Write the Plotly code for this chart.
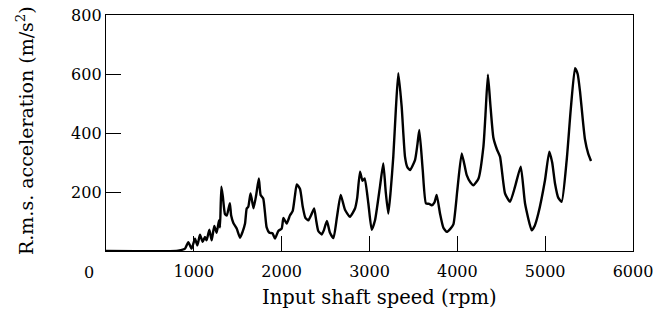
import plotly.graph_objects as go

rpm = [0, 800, 850, 900, 937, 975, 1013, 1040, 1070, 1100, 1127, 1145, 1177, 1203, 1233, 1260,
       1287, 1298, 1313, 1330, 1355, 1375, 1410, 1425, 1450, 1488, 1526, 1555, 1583, 1602, 1620,
       1645, 1660, 1680, 1710, 1740, 1760, 1790, 1810, 1829, 1860, 1895, 1924, 1962, 2000, 2020,
       2057, 2095, 2125, 2150, 2172, 2209, 2240, 2270, 2304, 2340, 2370, 2395, 2417, 2456, 2480,
       2515, 2550, 2590, 2630, 2672, 2721, 2778, 2835, 2860, 2892, 2920, 2945, 2987, 3025, 3063,
       3120, 3157, 3185, 3214, 3240, 3271, 3300, 3328, 3366, 3404, 3430, 3461, 3518, 3545, 3567,
       3606, 3643, 3680, 3708, 3740, 3765, 3803, 3840, 3879, 3920, 3955, 4000, 4050, 4107, 4150,
       4183, 4240, 4297, 4320, 4348, 4375, 4410, 4450, 4486, 4543, 4600, 4657, 4722, 4771, 4847,
       4880, 4922, 4998, 5047, 5080, 5112, 5150, 5188, 5245, 5291, 5340, 5370, 5397, 5430, 5454,
       5490, 5522]
accel = [0, 0, 3, 8, 30, 8, 42, 19, 55, 31, 48, 36, 72, 36, 85, 62,
         104, 80, 218, 185, 125, 120, 162, 120, 95, 76, 45, 65, 93, 144, 150,
         195, 175, 145, 190, 246, 190, 178, 130, 80, 62, 60, 42, 68, 76, 112,
         93, 121, 135, 185, 226, 210, 150, 112, 104, 125, 144, 100, 68, 56, 70,
         102, 62, 44, 116, 190, 140, 116, 144, 180, 269, 238, 246, 161, 72, 104,
         220, 297, 200, 127, 200, 320, 480, 603, 490, 320, 285, 274, 308, 360, 410,
         274, 161, 160, 155, 165, 190, 127, 80, 65, 75, 90, 206, 331, 257, 232,
         223, 245, 354, 460, 598, 500, 385, 345, 320, 195, 167, 218, 286, 161, 70,
         85, 127, 240, 337, 300, 229, 180, 167, 308, 479, 620, 600, 540, 440, 377,
         330, 305]

x_ticks = [1000, 2000, 3000, 4000, 5000, 6000]
y_ticks = [200, 400, 600, 800]

FONT = "DejaVu Serif"

W, H = 660, 314
L, R, T, B = 106, 27, 15, 63
pw, ph = W - L - R, H - T - B


def ax(px):
    return (px - L) / pw


def ay(py):
    return (H - B - py) / ph


fig = go.Figure()
fig.add_trace(go.Scatter(x=rpm, y=accel, mode="lines",
                         line=dict(color="black", width=2.4, shape="spline", smoothing=0.5),
                         hoverinfo="skip", showlegend=False))

fig.update_layout(
    width=W, height=H,
    margin=dict(l=L, r=R, t=T, b=B, autoexpand=False),
    paper_bgcolor="white", plot_bgcolor="white",
    font=dict(family=FONT, size=16, color="black"),
    xaxis=dict(range=[0, 6000], tickvals=x_ticks, ticktext=[str(v) for v in x_ticks],
               ticks="inside", ticklen=15, tickwidth=1, tickcolor="black",
               showline=True, linecolor="black", linewidth=1.3, mirror=True,
               showgrid=False, zeroline=False, automargin=False, ticklabeloverflow="allow",
               ticklabelstandoff=6),
    yaxis=dict(range=[0, 800], tickvals=y_ticks, ticktext=[str(v) for v in y_ticks],
               ticks="inside", ticklen=15, tickwidth=1, tickcolor="black",
               showline=True, linecolor="black", linewidth=1.3, mirror=True,
               showgrid=False, zeroline=False, automargin=False, ticklabeloverflow="allow"),
    annotations=[
        dict(text="0", xref="paper", yref="paper", x=ax(89), y=ay(272),
             showarrow=False, xanchor="center", yanchor="middle", font=dict(size=16)),
        dict(text="Input shaft speed (rpm)", xref="paper", yref="paper",
             x=ax(379), y=ay(297), showarrow=False,
             xanchor="center", yanchor="middle", font=dict(size=19.5)),
        dict(text="R.m.s. acceleration (m/s<sup>2</sup>)", xref="paper", yref="paper",
             x=ax(25), y=ay(131), showarrow=False, textangle=-90,
             xanchor="center", yanchor="middle", font=dict(size=19)),
    ],
)

fig.write_html("out.html", config={"displayModeBar": False},
               post_script="document.body.style.margin='0';document.body.style.padding='0';")
